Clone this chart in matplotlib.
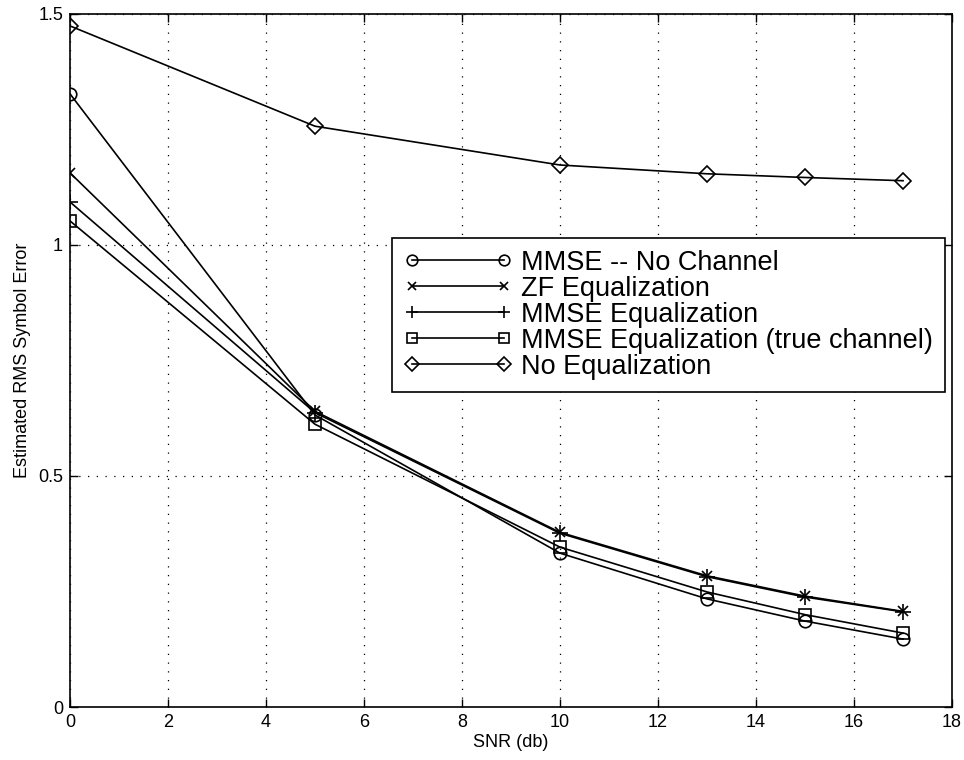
import matplotlib
matplotlib.use("Agg")
import matplotlib.pyplot as plt

plt.rcParams['font.family'] = ['Liberation Sans', 'DejaVu Sans']

snr = [0, 5, 10, 13, 15, 17]
mmse_no_channel = [1.327, 0.632, 0.333, 0.234, 0.186, 0.147]
zf_eq = [1.156, 0.640, 0.378, 0.284, 0.240, 0.207]
mmse_eq = [1.093, 0.637, 0.376, 0.282, 0.238, 0.206]
mmse_true = [1.052, 0.612, 0.346, 0.249, 0.200, 0.160]
no_eq = [1.474, 1.257, 1.173, 1.154, 1.146, 1.139]

labels = ["MMSE -- No Channel", "ZF Equalization", "MMSE Equalization",
          "MMSE Equalization (true channel)", "No Equalization"]
xticks = [0, 2, 4, 6, 8, 10, 12, 14, 16, 18]
yticks = [0, 0.5, 1, 1.5]
yticklabels = ["0", "0.5", "1", "1.5"]

fig = plt.figure(figsize=(9.64, 7.60), dpi=100)
ax = fig.add_axes([0.0726, 0.0697, 0.915, 0.912])

kw = dict(color='black', linewidth=1.2, markersize=9, markerfacecolor='none',
          markeredgecolor='black', markeredgewidth=1.2)
ax.plot(snr, mmse_no_channel, marker='o', label=labels[0], **kw)
ax.plot(snr, zf_eq, marker='x', label=labels[1], **{**kw, 'markersize': 7})
ax.plot(snr, mmse_eq, marker='+', label=labels[2], **{**kw, 'markersize': 11})
ax.plot(snr, mmse_true, marker='s', label=labels[3], **{**kw, 'markersize': 8})
ax.plot(snr, no_eq, marker='D', label=labels[4], **{**kw, 'markersize': 8})

ax.set_xlim(0, 18)
ax.set_ylim(0, 1.5)
ax.set_xticks(xticks)
ax.set_yticks(yticks)
ax.set_yticklabels(yticklabels)
ax.tick_params(direction='in', top=True, right=True, length=6, width=1,
               labelsize=13, pad=5)
ax.grid(True, color='black', linestyle=(0, (1, 6)), linewidth=0.9)
for s in ax.spines.values():
    s.set_linewidth(1.2)

ax.set_xlabel("SNR (db)", fontsize=13, labelpad=2)
ax.set_ylabel("Estimated RMS Symbol Error", fontsize=13, labelpad=5)

leg = ax.legend(loc='upper left', bbox_to_anchor=(0.365, 0.677),
                borderaxespad=0, fontsize=19.5, handlelength=4.0,
                handletextpad=0.3, labelspacing=0.0, borderpad=0.45,
                numpoints=2, markerscale=0.85,
                fancybox=False, framealpha=1, edgecolor='black')
leg.get_frame().set_linewidth(1.2)

fig.savefig("out.png", dpi=100)
